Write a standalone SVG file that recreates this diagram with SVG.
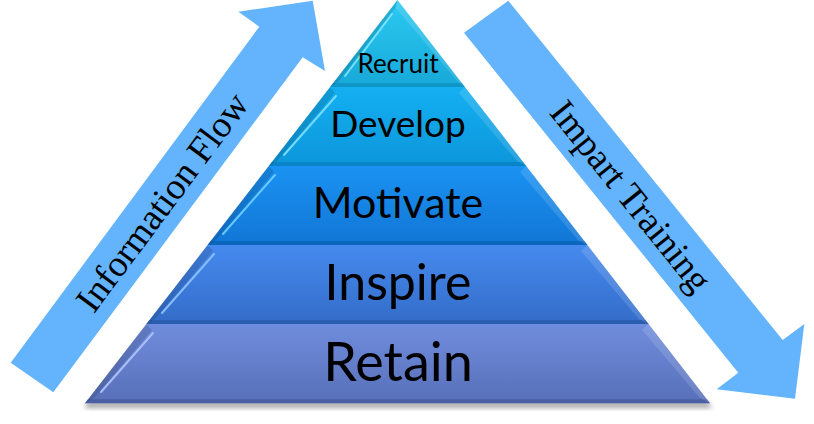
<svg xmlns="http://www.w3.org/2000/svg" width="814" height="424" viewBox="0 0 814 424">
  <style>
    .lbl { font-family: Lato, "Open Sans", "Liberation Sans", sans-serif; fill: #000; text-anchor: middle; }
    .arrtxt { font-family: "Liberation Serif", "Times New Roman", serif; font-size: 37px; fill: #000; text-anchor: middle; }
    .arrow { fill: #63b4fc; }
    .band { opacity: 0.55; }
    .hl { fill: none; stroke-width: 2; stroke-linecap: round; opacity: 0.9; }
    .facet { fill: #ffffff; opacity: 0.13; }
    .edge { opacity: 0.12; fill: #000; }
  </style>
  <defs>
    <linearGradient id="g1" x1="0" y1="0" x2="0" y2="1">
      <stop offset="0" stop-color="#2ccaf2"/>
      <stop offset="1" stop-color="#17a8d8"/>
    </linearGradient>
    <linearGradient id="g2" x1="0" y1="0" x2="0" y2="1">
      <stop offset="0" stop-color="#14b0f2"/>
      <stop offset="1" stop-color="#0c96da"/>
    </linearGradient>
    <linearGradient id="g3" x1="0" y1="0" x2="0" y2="1">
      <stop offset="0" stop-color="#1a92f2"/>
      <stop offset="1" stop-color="#1276d6"/>
    </linearGradient>
    <linearGradient id="g4" x1="0" y1="0" x2="0" y2="1">
      <stop offset="0" stop-color="#458aee"/>
      <stop offset="1" stop-color="#346cc8"/>
    </linearGradient>
    <linearGradient id="g5" x1="0" y1="0" x2="0" y2="1">
      <stop offset="0" stop-color="#6f8ddd"/>
      <stop offset="1" stop-color="#586fb8"/>
    </linearGradient>
    <filter id="shadow" x="-10%" y="-50%" width="120%" height="200%">
      <feGaussianBlur stdDeviation="2.5"/>
    </filter>
  </defs>

  <rect width="814" height="424" fill="#ffffff"/>

  <!-- base shadow -->
  <polygon points="88,402 708,402 712,408 84,408" fill="#000" opacity="0.35" filter="url(#shadow)"/>

  <g id="layer-recruit">
    <polygon points="397.5,0 464.9,87 330.1,87" fill="url(#g1)"/>
    <polygon points="333.2,83 461.8,83 464.9,87 330.1,87" fill="#0a86b8" class="band"/>
    <polygon points="397.5,0 464.9,87 458,82 396,8" class="facet"/>
    <polygon points="397.5,0 330.1,87 338,82 395,8" class="edge"/>
    <line x1="392" y1="14" x2="345" y2="76" stroke="#7fe6ff" class="hl"/>
    <text class="lbl" x="398" y="73" font-size="26">Recruit</text>
  </g>

  <g id="layer-develop">
    <polygon points="330.1,87 464.9,87 526.2,166 268.8,166" fill="url(#g2)"/>
    <polygon points="271.9,162 523.1,162 526.2,166 268.8,166" fill="#0874b4" class="band"/>
    <polygon points="464.9,87 526.2,166 517,161 459,93" class="facet"/>
    <polygon points="330.1,87 268.8,166 277,161 335,93" class="edge"/>
    <line x1="336" y1="96" x2="284" y2="155" stroke="#7fe0ff" class="hl"/>
    <text class="lbl" x="398" y="137" font-size="37">Develop</text>
  </g>

  <g id="layer-motivate">
    <polygon points="268.8,166 526.2,166 587.4,245 207.6,245" fill="url(#g3)"/>
    <polygon points="210.7,241 584.3,241 587.4,245 207.6,245" fill="#0a5aa8" class="band"/>
    <polygon points="526.2,166 587.4,245 578,240 520,172" class="facet"/>
    <polygon points="268.8,166 207.6,245 216,240 274,172" class="edge"/>
    <line x1="275" y1="175" x2="223" y2="234" stroke="#6fd0ff" class="hl"/>
    <text class="lbl" x="398" y="218" font-size="43">Motivate</text>
  </g>

  <g id="layer-inspire">
    <polygon points="207.6,245 587.4,245 648.6,324 146.4,324" fill="url(#g4)"/>
    <polygon points="149.5,320 645.5,320 648.6,324 146.4,324" fill="#22509c" class="band"/>
    <polygon points="587.4,245 648.6,324 639,319 581,251" class="facet"/>
    <polygon points="207.6,245 146.4,324 155,319 213,251" class="edge"/>
    <line x1="214" y1="254" x2="162" y2="313" stroke="#8ec4ff" class="hl"/>
    <text class="lbl" x="398" y="300" font-size="50">Inspire</text>
  </g>

  <g id="layer-retain">
    <polygon points="146.4,324 648.6,324 710,403.3 85,403.3" fill="url(#g5)"/>
    <polygon points="88.1,399.3 706.9,399.3 710,403.3 85,403.3" fill="#3e5294" class="band"/>
    <polygon points="648.6,324 710,403.3 700,398 642,330" class="facet"/>
    <polygon points="146.4,324 85,403.3 94,398 152,330" class="edge"/>
    <line x1="153" y1="333" x2="101" y2="392" stroke="#b0c4ff" class="hl"/>
    <text class="lbl" x="398" y="381" font-size="54">Retain</text>
  </g>

  <g id="connectors">
    <g id="arrow-information-flow">
      <polygon class="arrow" points="10.7,362.7 259.3,26.7 238.3,11.7 312.7,0.7 325,71 302.7,57.3 53.3,392.3"/>
      <text class="arrtxt" transform="translate(172,209.4) rotate(-53.3)">Information Flow</text>
    </g>
    <g id="arrow-impart-training">
      <polygon class="arrow" points="508.3,0.7 782.7,340 804.3,324 795,398.7 716.7,389.3 738.3,372.7 464,32.7"/>
      <text class="arrtxt" transform="translate(621.3,203.8) rotate(51.2)">Impart Training</text>
    </g>
  </g>
</svg>
